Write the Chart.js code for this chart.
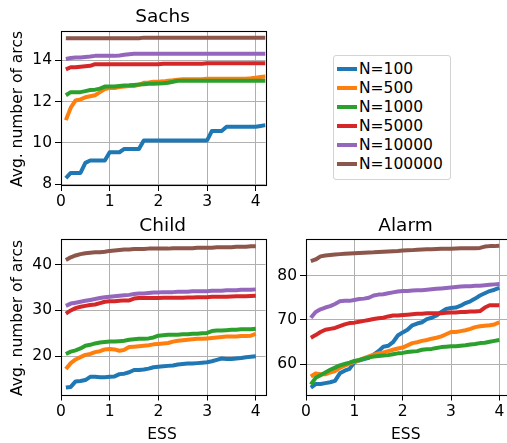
<!DOCTYPE html>
<html>
<head>
<meta charset="utf-8">
<script src="https://cdn.jsdelivr.net/npm/chart.js@4.4.0/dist/chart.umd.min.js"></script>
<style>
html,body{margin:0;padding:0;background:#fff;overflow:hidden;width:507px;height:443px;}
#wrap{position:relative;width:507px;height:443px;overflow:hidden;background:#fff;}
canvas{position:absolute;}
#legend{position:absolute;left:333px;top:55px;width:116px;height:123px;border:1px solid #d4d4d4;border-radius:3px;background:rgba(255,255,255,0.8);font-family:"DejaVu Sans";font-size:15.5px;color:#000;}
.row{position:absolute;left:0;height:18px;line-height:18px;white-space:nowrap;}
.sw{position:absolute;left:3px;top:7px;width:20px;height:4px;}
.tx{position:absolute;left:25px;top:0;}
</style>
</head>
<body>
<div id="wrap">
<canvas id="sachs"></canvas>
<canvas id="child"></canvas>
<canvas id="alarm"></canvas>
<div id="legend"></div>
</div>
<script>
// ---------------- data ----------------
const seriesLabels = ['N=100','N=500','N=1000','N=5000','N=10000','N=100000'];
const seriesColors = ['#1f77b4','#ff7f0e','#2ca02c','#d62728','#9467bd','#8c564b'];

const essSachs = [0.1,0.2,0.3,0.4,0.5,0.6,0.7,0.8,0.9,1.0,1.1,1.2,1.3,1.4,1.5,1.6,1.7,1.8,1.9,2.0,2.1,2.2,2.3,2.4,2.5,2.6,2.7,2.8,2.9,3.0,3.1,3.2,3.3,3.4,3.5,3.6,3.7,3.8,3.9,4.0,4.1,4.2];
const ess = [0.1,0.2,0.3,0.4,0.5,0.6,0.7,0.8,0.9,1.0,1.1,1.2,1.3,1.4,1.5,1.6,1.7,1.8,1.9,2.0,2.1,2.2,2.3,2.4,2.5,2.6,2.7,2.8,2.9,3.0,3.1,3.2,3.3,3.4,3.5,3.6,3.7,3.8,3.9,4.0];

const sachsN100    = [8.3,8.55,8.55,8.55,9.04,9.15,9.15,9.15,9.15,9.55, 9.55,9.55,9.71,9.71,9.71,9.71,10.12,10.12,10.12,10.12, 10.12,10.12,10.12,10.12,10.12,10.12,10.12,10.12,10.12,10.12, 10.58,10.58,10.58,10.78,10.78,10.78,10.78,10.78,10.78,10.78, 10.82,10.86];
const sachsN500    = [11.1,11.7,12.05,12.1,12.2,12.25,12.3,12.45,12.6,12.65, 12.65,12.7,12.72,12.75,12.75,12.8,12.9,12.92,12.95,12.95, 12.97,13.0,13.02,13.05,13.07,13.07,13.07,13.07,13.07,13.1, 13.1,13.1,13.1,13.1,13.1,13.1,13.1,13.1,13.12,13.15, 13.18,13.2];
const sachsN1000   = [12.3,12.45,12.45,12.45,12.5,12.55,12.57,12.62,12.72,12.72, 12.72,12.75,12.77,12.78,12.8,12.82,12.83,12.85,12.86,12.87, 12.88,12.9,12.95,13.0,13.0,13.0,13.0,13.0,13.0,13.0, 13.0,13.0,13.0,13.0,13.0,13.0,13.0,13.0,13.0,13.0, 13.0,13.0];
const sachsN5000   = [13.55,13.65,13.65,13.68,13.7,13.72,13.8,13.8,13.8,13.8, 13.8,13.8,13.8,13.8,13.8,13.8,13.8,13.8,13.8,13.8, 13.82,13.82,13.82,13.82,13.82,13.82,13.82,13.82,13.82,13.84, 13.84,13.84,13.84,13.84,13.84,13.84,13.85,13.85,13.85,13.85, 13.85,13.85];
const sachsN10000  = [14.05,14.1,14.12,14.12,14.15,14.17,14.2,14.2,14.2,14.2, 14.2,14.22,14.25,14.28,14.3,14.3,14.3,14.3,14.3,14.3, 14.3,14.3,14.3,14.3,14.3,14.3,14.3,14.3,14.3,14.3, 14.3,14.3,14.3,14.3,14.3,14.3,14.3,14.3,14.3,14.3, 14.3,14.3];
const sachsN100000 = [15.05,15.05,15.05,15.05,15.05,15.05,15.05,15.05,15.05,15.05, 15.05,15.05,15.05,15.05,15.05,15.05,15.08,15.08,15.08,15.08, 15.08,15.08,15.08,15.08,15.08,15.08,15.08,15.08,15.08,15.08, 15.08,15.08,15.08,15.08,15.08,15.08,15.08,15.08,15.08,15.08, 15.08,15.08];

const childN100    = [13.2,13.3,14.5,14.6,14.8,15.5,15.5,15.4,15.4,15.5, 15.6,16.1,16.2,16.5,17.0,17.0,17.1,17.3,17.6,17.7, 17.8,17.9,18.0,18.2,18.3,18.4,18.4,18.5,18.6,18.7, 18.9,19.2,19.5,19.4,19.4,19.5,19.6,19.8,19.9,20.0];
const childN500    = [17.2,18.5,19.3,19.8,20.3,20.5,20.9,21.1,21.5,21.6, 21.5,21.2,21.4,22.0,22.1,22.2,22.3,22.4,22.6,22.7, 22.8,22.9,23.2,23.4,23.5,23.6,23.7,23.8,23.8,23.9, 24.0,24.1,24.2,24.3,24.3,24.3,24.4,24.4,24.5,24.9];
const childN1000   = [20.5,21.0,21.3,21.7,22.3,22.5,22.8,23.0,23.1,23.2, 23.2,23.3,23.4,23.6,23.7,23.8,23.8,23.9,24.1,24.5, 24.6,24.7,24.7,24.7,24.8,24.8,24.9,24.9,25.0,25.1, 25.5,25.6,25.6,25.7,25.8,25.8,25.9,25.9,25.9,26.0];
const childN5000   = [29.3,30.0,30.5,30.8,31.0,31.2,31.3,31.6,31.9,32.0, 32.0,32.1,32.2,32.2,32.6,32.7,32.7,32.7,32.7,32.7, 32.75,32.75,32.8,32.8,32.8,32.85,32.85,32.9,32.9,32.9, 33.0,33.0,33.0,33.0,33.05,33.1,33.1,33.1,33.15,33.2];
const childN10000  = [31.0,31.5,31.7,31.9,32.1,32.3,32.5,32.7,32.9,33.0, 33.1,33.2,33.3,33.4,33.6,33.7,33.7,33.8,33.9,33.9, 34.0,34.0,34.0,34.1,34.1,34.1,34.2,34.2,34.2,34.2, 34.3,34.3,34.3,34.4,34.4,34.4,34.5,34.5,34.5,34.6];
const childN100000 = [41.0,41.6,42.0,42.3,42.5,42.6,42.7,42.7,42.8,43.0, 43.1,43.2,43.3,43.3,43.4,43.4,43.4,43.5,43.5,43.5, 43.5,43.5,43.6,43.6,43.6,43.6,43.6,43.7,43.7,43.7, 43.7,43.8,43.8,43.8,43.8,43.9,43.9,43.9,44.0,44.0];

const alarmN100    = [54.8,55.6,55.6,55.8,56.0,56.3,58.0,58.6,59.0,60.5, 60.9,61.2,61.5,62.2,63.0,64.0,64.2,65.0,66.5,67.2, 67.8,68.8,69.2,69.5,70.2,70.5,71.0,71.8,72.5,72.7, 72.8,73.2,73.8,74.2,74.8,75.5,76.0,76.5,76.8,77.2];
const alarmN500    = [57.3,58.0,57.8,57.8,58.2,58.5,59.2,59.7,60.2,60.6, 61.0,61.4,61.8,62.2,62.5,62.7,63.0,63.3,63.6,63.8, 64.3,64.8,65.0,65.3,65.5,65.8,66.0,66.3,66.8,67.3, 67.3,67.5,67.7,68.0,68.4,68.6,68.7,68.8,69.0,69.5];
const alarmN1000   = [55.5,57.0,57.6,58.2,58.8,59.3,59.8,60.1,60.4,60.8, 61.0,61.3,61.6,61.8,61.9,62.0,62.1,62.3,62.5,62.6, 62.8,62.9,63.0,63.3,63.4,63.5,63.7,63.9,64.0,64.1, 64.1,64.2,64.3,64.5,64.6,64.8,64.9,65.1,65.3,65.5];
const alarmN5000   = [66.0,66.6,67.3,67.8,68.0,68.2,68.6,69.0,69.3,69.4, 69.6,69.8,70.0,70.2,70.4,70.5,70.8,71.0,71.0,71.1, 71.2,71.3,71.4,71.4,71.5,71.5,71.5,71.5,71.6,71.7, 71.7,71.8,71.8,71.9,71.9,72.0,72.8,73.3,73.3,73.3];
const alarmN10000  = [70.5,71.8,72.4,72.8,73.1,73.6,74.2,74.3,74.3,74.5, 74.7,74.8,75.0,75.5,75.7,75.8,76.0,76.2,76.4,76.5, 76.5,76.6,76.7,76.7,76.8,76.9,77.0,77.1,77.2,77.3, 77.4,77.5,77.6,77.6,77.7,77.7,77.8,77.9,78.0,78.1];
const alarmN100000 = [83.2,83.6,84.3,84.5,84.6,84.7,84.8,84.9,84.95,85.0, 85.05,85.1,85.15,85.2,85.3,85.35,85.4,85.45,85.5,85.6, 85.65,85.7,85.8,85.85,85.9,85.9,85.95,86.0,86.0,86.0, 86.05,86.1,86.1,86.1,86.1,86.2,86.5,86.6,86.6,86.7];

const xTicks = [0,1,2,3,4];
const sachsYTicks = [8,10,12,14];
const childYTicks = [20,30,40];
const alarmYTicks = [60,70,80];

// ---------------- drawing ----------------
Chart.defaults.font.family = '"DejaVu Sans"';
const FONT_TICK = 15.5, FONT_TITLE = 18.5, FONT_LABEL = 15.5;

const decor = {
  id: 'decor',
  afterDatasetsDraw(chart, args, o) {
    const ctx = chart.ctx, a = chart.chartArea;
    ctx.save();
    ctx.strokeStyle = '#000';
    ctx.lineWidth = 1.1;
    const l = Math.round(a.left) + 0.5, t = Math.round(a.top) + 0.5;
    const r = Math.round(a.right) + 0.5, b = Math.round(a.bottom) + 0.5;
    ctx.strokeRect(l, t, r - l, b - t);
    ctx.restore();
  },
  afterDraw(chart, args, o) {
    const ctx = chart.ctx;
    ctx.save();
    ctx.fillStyle = '#000';
    ctx.textAlign = 'center';
    ctx.textBaseline = 'alphabetic';
    ctx.font = FONT_TITLE + 'px "DejaVu Sans"';
    ctx.fillText(o.title, o.titleX, o.titleY);
    ctx.font = FONT_LABEL + 'px "DejaVu Sans"';
    if (o.yLabel) {
      ctx.save();
      ctx.translate(o.yLabelX, o.yLabelY);
      ctx.rotate(-Math.PI / 2);
      ctx.fillText(o.yLabel, 0, 0);
      ctx.restore();
    }
    if (o.xLabel) {
      ctx.fillText(o.xLabel, o.xLabelX, o.xLabelY);
    }
    ctx.restore();
  }
};

function makeChart(id, g, xs, seriesList, yTicks, decorOpts) {
  const cv = document.getElementById(id);
  cv.style.left = g.cx + 'px';
  cv.style.top = g.cy + 'px';
  cv.style.width = g.cw + 'px';
  cv.style.height = g.ch + 'px';
  cv.width = g.cw; cv.height = g.ch;
  const datasets = seriesList.map((vals, i) => ({
    label: seriesLabels[i],
    data: vals.map((v, k) => ({x: xs[k], y: v})),
    borderColor: seriesColors[i],
    backgroundColor: seriesColors[i],
    borderWidth: 4,
    pointRadius: 0,
    tension: 0,
    fill: false,
    clip: 0,
    borderJoinStyle: 'round',
    borderCapStyle: 'butt',
    order: seriesList.length - i
  }));
  return new Chart(cv, {
    type: 'line',
    data: {datasets},
    options: {
      responsive: false,
      animation: false,
      events: [],
      layout: {padding: {left: g.padL, top: g.top, right: g.cw - g.right, bottom: 0}},
      plugins: {legend: {display: false}, tooltip: {enabled: false}, decor: decorOpts},
      scales: {
        x: {
          type: 'linear', min: g.xmin, max: g.xmax,
          afterBuildTicks: s => { s.ticks = xTicks.map(v => ({value: v})); },
          afterFit: s => { s.height = g.ch - g.bottom; },
          grid: {color: '#b0b0b0', lineWidth: 1, tickColor: '#000', tickLength: 6, drawTicks: true},
          border: {display: false},
          ticks: {color: '#000', font: {size: FONT_TICK}, padding: 2, maxRotation: 0, autoSkip: false, callback: v => String(v)}
        },
        y: {
          type: 'linear', min: g.ymin, max: g.ymax,
          afterBuildTicks: s => { s.ticks = yTicks.map(v => ({value: v})); },
          afterFit: s => { s.width = g.left - g.padL; },
          grid: {color: '#b0b0b0', lineWidth: 1, tickColor: '#000', tickLength: 6, drawTicks: true},
          border: {display: false},
          ticks: {color: '#000', font: {size: FONT_TICK}, padding: 3, autoSkip: false, callback: v => String(v)}
        }
      }
    },
    plugins: [decor]
  });
}

makeChart('sachs',
  {cx: 0, cy: 0, cw: 290, ch: 216, padL: 0, left: 61, top: 31, right: 265.5, bottom: 185, xmin: 0, xmax: 4.2, ymin: 7.97, ymax: 15.4},
  essSachs,
  [sachsN100, sachsN500, sachsN1000, sachsN5000, sachsN10000, sachsN100000],
  sachsYTicks,
  {title: 'Sachs', titleX: 162.5, titleY: 22, yLabel: 'Avg. number of arcs', yLabelX: 21.5, yLabelY: 109});

makeChart('child',
  {cx: 0, cy: 216, cw: 290, ch: 227, padL: 0, left: 61, top: 23, right: 265.5, bottom: 178.5, xmin: 0, xmax: 4.2, ymin: 11.65, ymax: 45.6},
  ess,
  [childN100, childN500, childN1000, childN5000, childN10000, childN100000],
  childYTicks,
  {title: 'Child', titleX: 162.7, titleY: 15, yLabel: 'Avg. number of arcs', yLabelX: 21.5, yLabelY: 102, xLabel: 'ESS', xLabelX: 162, xLabelY: 223});

makeChart('alarm',
  {cx: 260, cy: 216, cw: 260, ch: 227, padL: 0, left: 46, top: 23, right: 249, bottom: 178.5, xmin: 0, xmax: 4.2, ymin: 53.25, ymax: 88.2},
  ess,
  [alarmN100, alarmN500, alarmN1000, alarmN5000, alarmN10000, alarmN100000],
  alarmYTicks,
  {title: 'Alarm', titleX: 145.5, titleY: 15, xLabel: 'ESS', xLabelX: 145.8, xLabelY: 223});

// legend
const leg = document.getElementById('legend');
seriesLabels.forEach((lab, i) => {
  const row = document.createElement('div');
  row.className = 'row';
  row.style.top = (13.3 + i * 18.9 - 9) + 'px';
  const sw = document.createElement('div');
  sw.className = 'sw';
  sw.style.background = seriesColors[i];
  const tx = document.createElement('div');
  tx.className = 'tx';
  tx.textContent = lab;
  row.appendChild(sw); row.appendChild(tx);
  leg.appendChild(row);
});
</script>
</body>
</html>
